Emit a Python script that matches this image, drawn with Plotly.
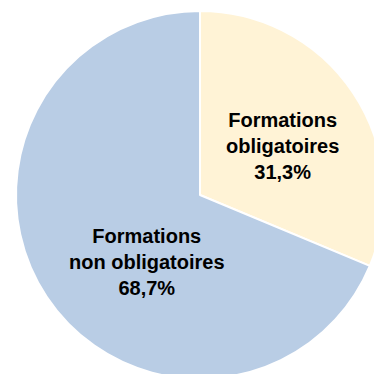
import plotly.graph_objects as go

labels = ['Formations<br>obligatoires', 'Formations<br>non obligatoires']
values = [31.3, 68.7]
pct_text = ['31,3%', '68,7%']
colors = ['#FFF3D6', '#B9CDE5']
label_pos = [(0.685, 0.655), (0.3475, 0.365)]

fig = go.Figure()
fig.add_trace(go.Pie(
    labels=labels,
    values=values,
    sort=False,
    direction='clockwise',
    rotation=0,
    marker=dict(colors=colors, line=dict(color='white', width=2)),
    textinfo='none',
    domain=dict(x=[8/400, 376/400], y=[1-371/400, 1-3/400]),
    hoverinfo='skip',
))
for lab, pct, (px_, py_) in zip(labels, pct_text, label_pos):
    fig.add_annotation(
        x=px_, y=py_, xref='paper', yref='paper',
        xanchor='center', yanchor='middle',
        text='<b>' + lab + '<br>' + pct + '</b>',
        showarrow=False, align='center',
        font=dict(family='Liberation Sans, Arial', size=20, color='black'),
    )
fig.update_layout(
    width=400, height=400,
    margin=dict(l=0, r=0, t=0, b=0),
    showlegend=False,
    paper_bgcolor='white',
)
# the pie runs past the window edge: pin the div so no scrollbars show
pin = ("document.documentElement.style.overflow='hidden';"
       "document.body.style.overflow='hidden';"
       "var d=document.getElementById('{plot_id}');"
       "d.style.position='fixed';d.style.left='8px';d.style.top='8px';")
fig.write_html('out.html', post_script=pin)
